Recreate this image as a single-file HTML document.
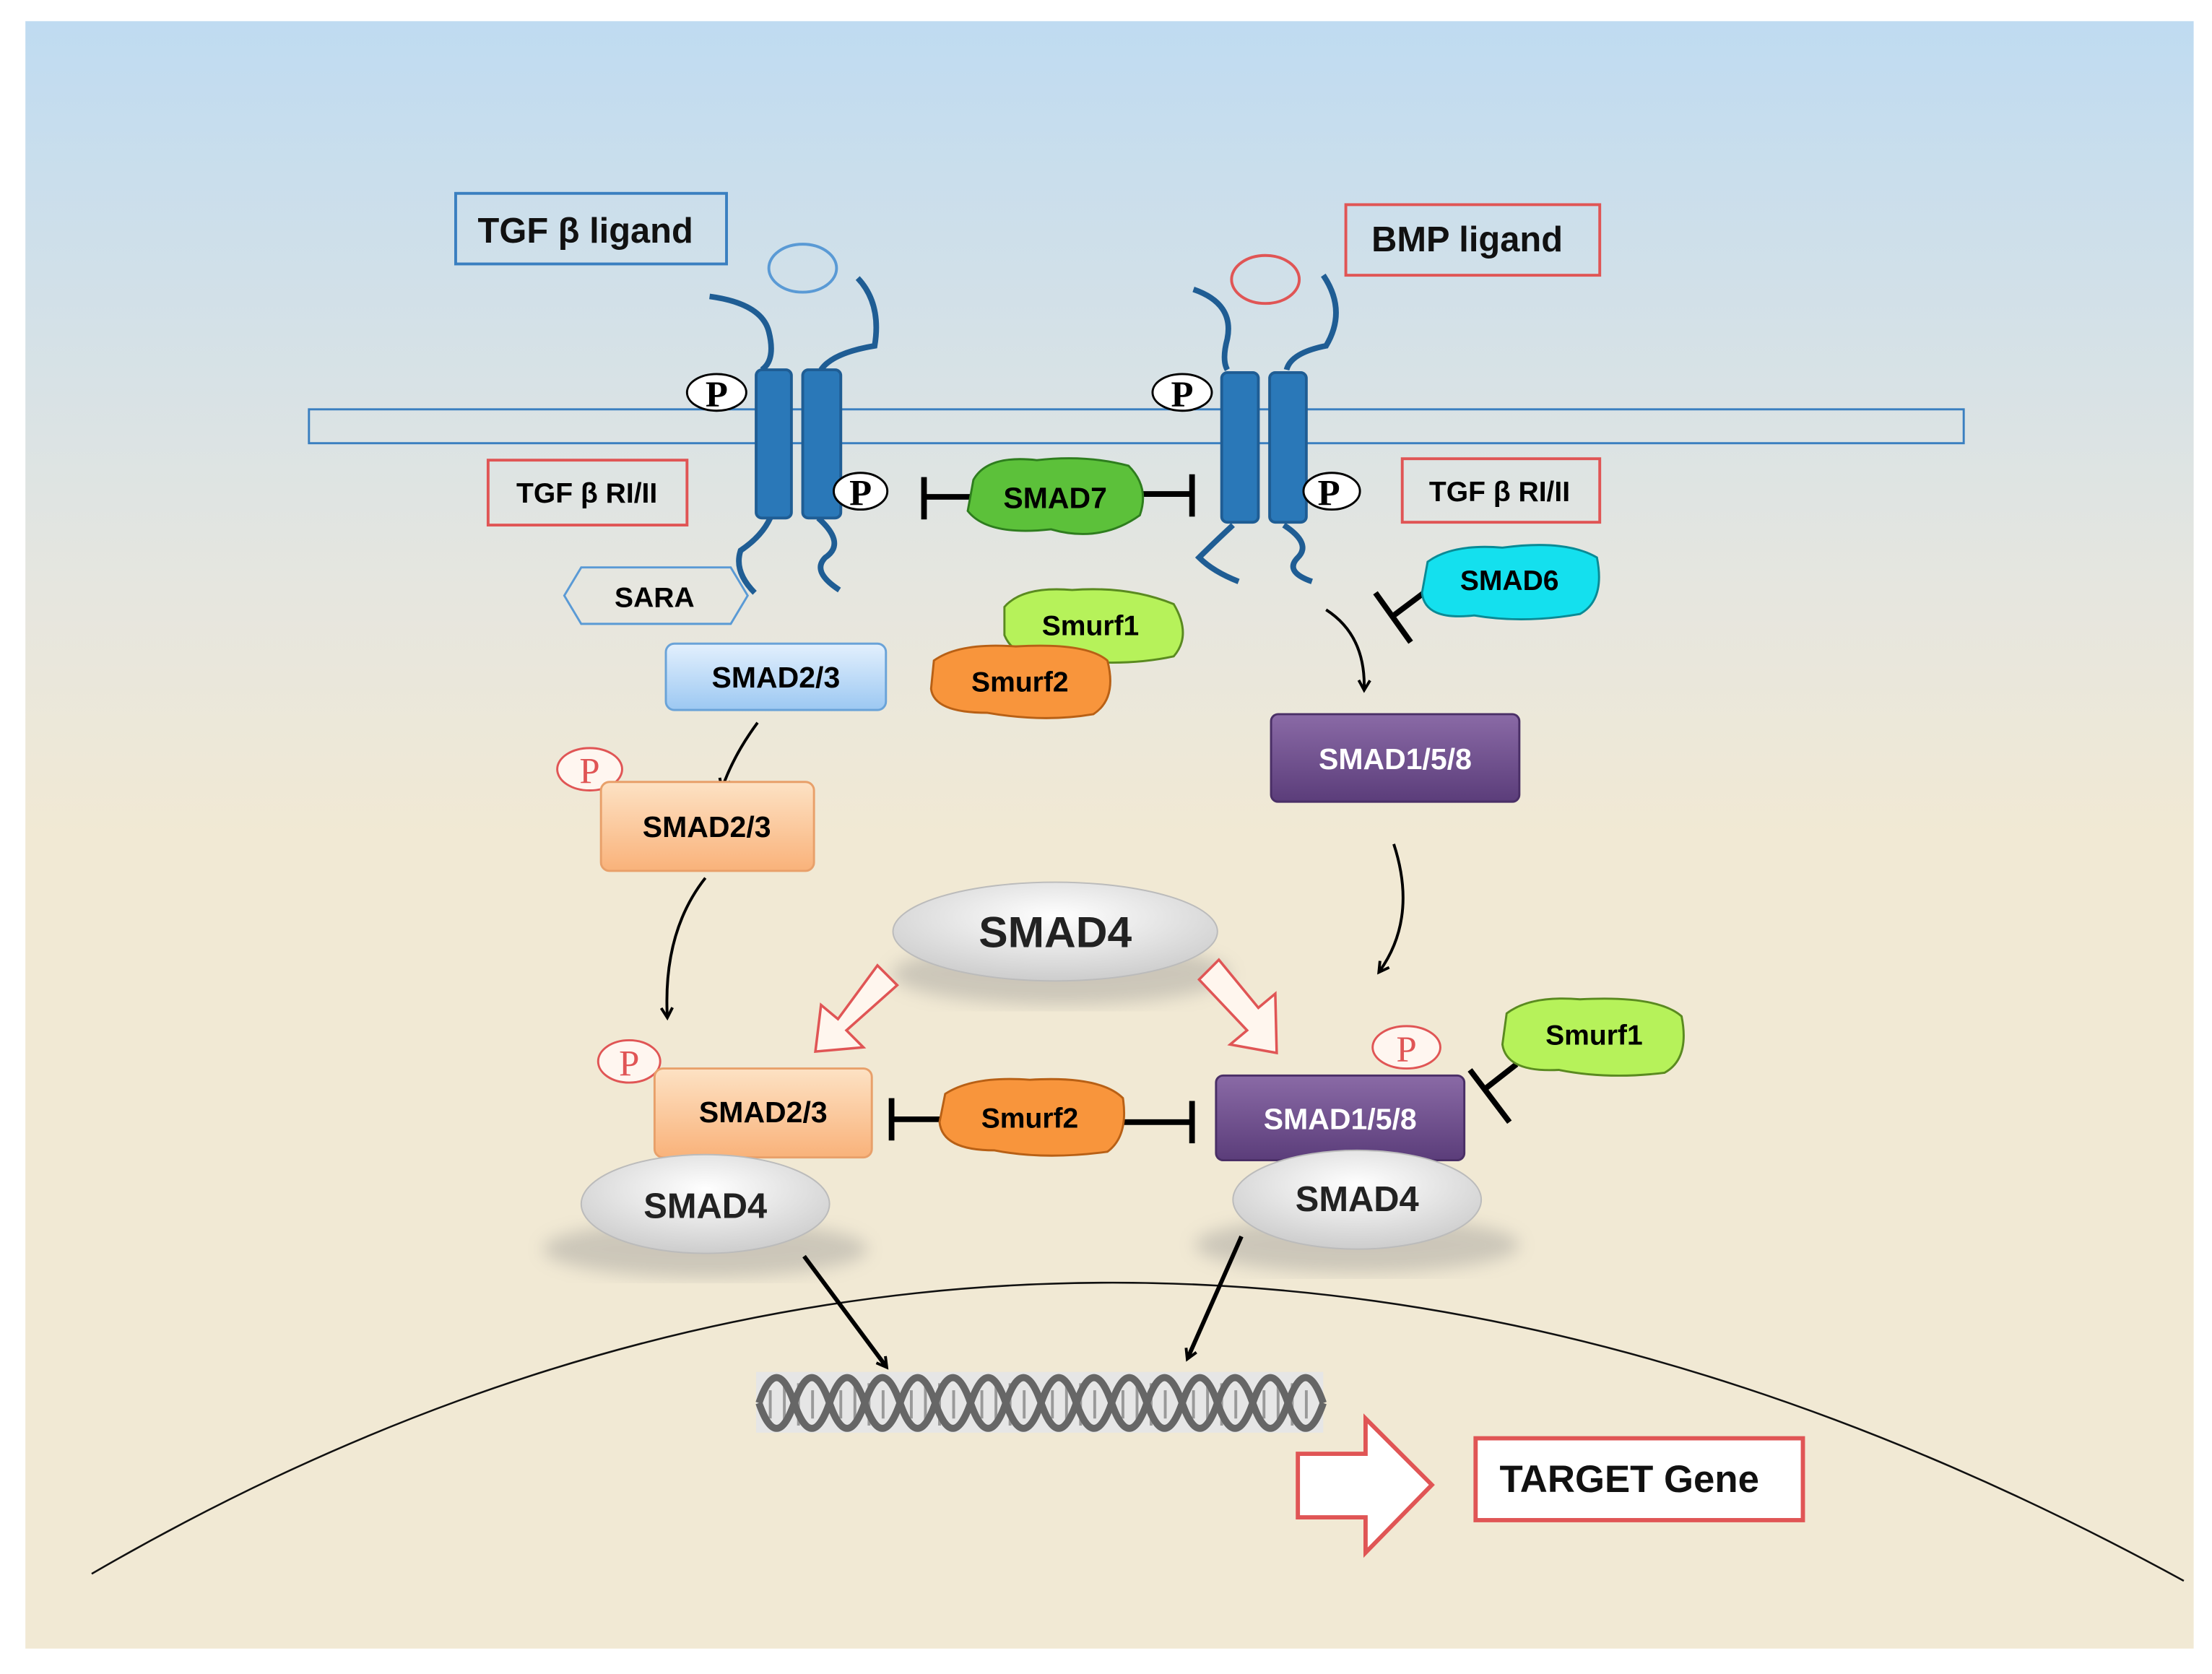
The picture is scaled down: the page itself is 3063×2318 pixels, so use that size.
<!DOCTYPE html>
<html><head><meta charset="utf-8"><style>
html,body{margin:0;padding:0;background:#fff;}
svg{display:block;}
text{font-family:"Liberation Sans",sans-serif;font-weight:bold;}
</style></head><body>
<svg width="3063" height="2318" viewBox="0 0 1568 1186" preserveAspectRatio="none" xmlns="http://www.w3.org/2000/svg">
<defs>
<linearGradient id="bg" x1="0" y1="0" x2="0" y2="1">
<stop offset="0" stop-color="#bfdbf1"/><stop offset="0.35" stop-color="#e6e6df"/><stop offset="0.5" stop-color="#f1e9d4"/><stop offset="1" stop-color="#f1e9d4"/></linearGradient>
<linearGradient id="blu" x1="0" y1="0" x2="0" y2="1"><stop offset="0" stop-color="#e3f0fd"/><stop offset="1" stop-color="#9cc8f2"/></linearGradient>
<linearGradient id="org" x1="0" y1="0" x2="0" y2="1"><stop offset="0" stop-color="#fde2c4"/><stop offset="1" stop-color="#f9b27a"/></linearGradient>
<linearGradient id="pur" x1="0" y1="0" x2="0" y2="1"><stop offset="0" stop-color="#8a6aa6"/><stop offset="1" stop-color="#5b3d7a"/></linearGradient>
<radialGradient id="gry" cx="0.5" cy="0.35" r="0.7"><stop offset="0" stop-color="#ffffff"/><stop offset="1" stop-color="#c9c9c9"/></radialGradient>
<marker id="ah" markerWidth="10" markerHeight="10" refX="7" refY="5" orient="auto" markerUnits="userSpaceOnUse"><path d="M1,1 L8,5 L1,9" fill="none" stroke="#000" stroke-width="2"/></marker>
<filter id="sh"><feGaussianBlur stdDeviation="6"/></filter>
</defs>
<rect x="18" y="15" width="1537" height="1153" fill="url(#bg)"/>
<path d="M65,1115 Q780,700 1548,1120" fill="none" stroke="#111" stroke-width="1.3"/>
<rect x="219" y="290" width="1173" height="24" fill="none" stroke="#3a7fc0" stroke-width="1.5"/>
<rect x="323" y="137" width="192" height="50" fill="none" stroke="#3a7fc0" stroke-width="2"/>
<text x="415" y="172" font-size="25" text-anchor="middle" fill="#111">TGF β ligand</text>
<rect x="954" y="145" width="180" height="50" fill="none" stroke="#e05555" stroke-width="2"/>
<text x="1040" y="178" font-size="25" text-anchor="middle" fill="#111">BMP ligand</text>
<ellipse cx="569" cy="190" rx="24" ry="17" fill="none" stroke="#5a9ad5" stroke-width="2"/>
<ellipse cx="897" cy="198" rx="24" ry="17" fill="none" stroke="#e05555" stroke-width="2"/>
<g stroke="#1f5d94" stroke-width="4" fill="none">
<path d="M503,210 Q540,215 545,235 Q550,255 540,262"/>
<path d="M608,197 Q625,215 620,245 Q590,250 582,262"/>
<path d="M546,367 Q540,380 525,390 Q520,405 535,420"/>
<path d="M580,367 Q600,385 585,395 Q575,405 595,418"/>
<path d="M846,205 Q875,215 870,240 Q866,255 870,262"/>
<path d="M938,195 Q955,220 940,245 Q915,250 912,262"/>
<path d="M874,372 Q860,385 850,395 Q860,405 878,412"/>
<path d="M910,372 Q930,385 920,395 Q910,405 930,412"/>
</g>
<g fill="#2a78b8" stroke="#1f5d94" stroke-width="2">
<rect x="536" y="262" width="25" height="105" rx="4"/><rect x="569" y="262" width="27" height="105" rx="4"/>
<rect x="866" y="264" width="26" height="106" rx="4"/><rect x="900" y="264" width="26" height="106" rx="4"/>
</g>
<g font-size="26" text-anchor="middle" fill="#000">
<ellipse cx="508" cy="278" rx="21" ry="13" fill="#fff" stroke="#000" stroke-width="1.5"/><text x="508" y="288" style="font-family:'Liberation Serif',serif">P</text>
<ellipse cx="610" cy="348" rx="19" ry="13" fill="#fff" stroke="#000" stroke-width="1.5"/><text x="610" y="358" style="font-family:'Liberation Serif',serif">P</text>
<ellipse cx="838" cy="278" rx="21" ry="13" fill="#fff" stroke="#000" stroke-width="1.5"/><text x="838" y="288" style="font-family:'Liberation Serif',serif">P</text>
<ellipse cx="944" cy="348" rx="20" ry="13" fill="#fff" stroke="#000" stroke-width="1.5"/><text x="942" y="358" style="font-family:'Liberation Serif',serif">P</text>
</g>
<rect x="346" y="326" width="141" height="46" fill="none" stroke="#e05555" stroke-width="2"/>
<text x="416" y="356" font-size="20" text-anchor="middle">TGF β RI/II</text>
<rect x="994" y="325" width="140" height="45" fill="none" stroke="#e05555" stroke-width="2"/>
<text x="1063" y="355" font-size="20" text-anchor="middle">TGF β RI/II</text>
<polygon points="412,402 518,402 530,422 518,442 412,442 400,422" fill="none" stroke="#5a9ad5" stroke-width="1.5"/>
<text x="464" y="430" font-size="20" text-anchor="middle">SARA</text>
<rect x="472" y="456" width="156" height="47" rx="6" fill="url(#blu)" stroke="#6aa3d8" stroke-width="1.5"/>
<text x="550" y="487" font-size="21" text-anchor="middle">SMAD2/3</text>
<g stroke="#000" stroke-width="4"><line x1="655" y1="352" x2="690" y2="352"/><line x1="655" y1="338" x2="655" y2="368"/>
<line x1="808" y1="350" x2="845" y2="350"/><line x1="845" y1="336" x2="845" y2="366"/></g>
<path d="M690,340 Q700,322 735,326 Q770,322 800,330 Q815,345 808,365 Q780,385 745,375 Q700,380 686,362 Z" fill="#5cc13a" stroke="#2e7d1e" stroke-width="1.5"/>
<text x="748" y="360" font-size="21" text-anchor="middle">SMAD7</text>
<path d="M712,430 Q725,415 760,418 Q800,415 832,428 Q845,450 832,465 Q800,472 760,468 Q720,470 712,450 Z" fill="#b6f25a" stroke="#5a8a20" stroke-width="1.5"/>
<text x="773" y="450" font-size="20" text-anchor="middle">Smurf1</text>
<path d="M662,468 Q680,455 720,458 Q770,455 785,468 Q792,495 775,506 Q740,512 700,505 Q662,505 660,488 Z" fill="#f8953c" stroke="#b86015" stroke-width="1.5"/>
<text x="723" y="490" font-size="20" text-anchor="middle">Smurf2</text>
<g stroke="#000" stroke-width="4"><line x1="1012" y1="418" x2="988" y2="436"/><line x1="975" y1="420" x2="1000" y2="455"/></g>
<path d="M1012,398 Q1030,385 1065,388 Q1110,382 1132,395 Q1138,425 1120,435 Q1080,442 1045,436 Q1010,440 1008,420 Z" fill="#14e0ee" stroke="#0a8a95" stroke-width="1.5"/>
<text x="1070" y="418" font-size="20" text-anchor="middle">SMAD6</text>
<path d="M940,432 Q968,450 967,488" fill="none" stroke="#000" stroke-width="2" marker-end="url(#ah)"/>
<rect x="901" y="506" width="176" height="62" rx="5" fill="url(#pur)" stroke="#4a2f66" stroke-width="1.5"/>
<text x="989" y="545" font-size="21" text-anchor="middle" fill="#fff">SMAD1/5/8</text>
<path d="M537,512 Q520,535 512,558" fill="none" stroke="#000" stroke-width="2" marker-end="url(#ah)"/>
<ellipse cx="418" cy="545" rx="23" ry="15" fill="#fff6f0" stroke="#e05555" stroke-width="1.5"/>
<text x="418" y="555" font-size="26" text-anchor="middle" fill="#e05555" style="font-family:'Liberation Serif',serif;font-weight:normal">P</text>
<rect x="426" y="554" width="151" height="63" rx="6" fill="url(#org)" stroke="#e8a06a" stroke-width="1.5"/>
<text x="501" y="593" font-size="21" text-anchor="middle">SMAD2/3</text>
<ellipse cx="752" cy="690" rx="120" ry="22" fill="#888" opacity="0.35" filter="url(#sh)"/>
<ellipse cx="748" cy="660" rx="115" ry="35" fill="url(#gry)" stroke="#bbb"/>
<text x="748" y="671" font-size="31" text-anchor="middle" fill="#222">SMAD4</text>
<path d="M500,622 Q470,660 473,720" fill="none" stroke="#000" stroke-width="2" marker-end="url(#ah)"/>
<path d="M988,598 Q1005,650 978,688" fill="none" stroke="#000" stroke-width="2" marker-end="url(#ah)"/>
<polygon points="622,684 636,698 600,730 612,742 578,745 582,712 594,722" fill="#fff6ee" stroke="#e05555" stroke-width="1.8"/>
<polygon points="850,694 864,680 892,714 904,704 905,746 872,740 884,730" fill="#fff6ee" stroke="#e05555" stroke-width="1.8"/>
<ellipse cx="500" cy="885" rx="115" ry="20" fill="#888" opacity="0.35" filter="url(#sh)"/>
<ellipse cx="446" cy="752" rx="22" ry="15" fill="#fff6f0" stroke="#e05555" stroke-width="1.5"/>
<text x="446" y="762" font-size="26" text-anchor="middle" fill="#e05555" style="font-family:'Liberation Serif',serif;font-weight:normal">P</text>
<rect x="464" y="757" width="154" height="63" rx="6" fill="url(#org)" stroke="#e8a06a" stroke-width="1.5"/>
<text x="541" y="795" font-size="21" text-anchor="middle">SMAD2/3</text>
<ellipse cx="500" cy="853" rx="88" ry="35" fill="url(#gry)" stroke="#bbb"/>
<text x="500" y="863" font-size="25" text-anchor="middle" fill="#222">SMAD4</text>
<g stroke="#000" stroke-width="4"><line x1="632" y1="793" x2="670" y2="793"/><line x1="632" y1="778" x2="632" y2="808"/>
<line x1="795" y1="795" x2="845" y2="795"/><line x1="845" y1="780" x2="845" y2="810"/></g>
<path d="M670,775 Q690,762 730,765 Q780,762 796,778 Q800,805 785,816 Q740,822 705,815 Q668,815 666,795 Z" fill="#f8953c" stroke="#b86015" stroke-width="1.5"/>
<text x="730" y="799" font-size="20" text-anchor="middle">Smurf2</text>
<ellipse cx="962" cy="882" rx="115" ry="20" fill="#888" opacity="0.35" filter="url(#sh)"/>
<ellipse cx="997" cy="742" rx="24" ry="15" fill="#fff6f0" stroke="#e05555" stroke-width="1.5"/>
<text x="997" y="752" font-size="26" text-anchor="middle" fill="#e05555" style="font-family:'Liberation Serif',serif;font-weight:normal">P</text>
<rect x="862" y="762" width="176" height="60" rx="5" fill="url(#pur)" stroke="#4a2f66" stroke-width="1.5"/>
<text x="950" y="800" font-size="21" text-anchor="middle" fill="#fff">SMAD1/5/8</text>
<ellipse cx="962" cy="850" rx="88" ry="35" fill="url(#gry)" stroke="#bbb"/>
<text x="962" y="858" font-size="25" text-anchor="middle" fill="#222">SMAD4</text>
<g stroke="#000" stroke-width="4"><line x1="1075" y1="754" x2="1052" y2="772"/><line x1="1042" y1="758" x2="1070" y2="795"/></g>
<path d="M1068,718 Q1085,705 1120,708 Q1175,705 1192,720 Q1198,750 1180,760 Q1140,765 1105,758 Q1068,760 1065,740 Z" fill="#b6f25a" stroke="#5a8a20" stroke-width="1.5"/>
<text x="1130" y="740" font-size="20" text-anchor="middle">Smurf1</text>
<line x1="570" y1="890" x2="628" y2="968" stroke="#000" stroke-width="3" marker-end="url(#ah)"/>
<line x1="880" y1="876" x2="842" y2="962" stroke="#000" stroke-width="3" marker-end="url(#ah)"/>
<rect x="536" y="972" width="402" height="43" fill="#e6e6e6"/>
<g stroke="#999" stroke-width="2">
<path d="M546,985v20M556,980v30M566,980v30M576,985v20M596,985v20M606,980v30M616,980v30M626,985v20M646,985v20M656,980v30M666,980v30M676,985v20M696,985v20M706,980v30M716,980v30M726,985v20M746,985v20M756,980v30M766,980v30M776,985v20M796,985v20M806,980v30M816,980v30M826,985v20M846,985v20M856,980v30M866,980v30M876,985v20M896,985v20M906,980v30M916,980v30M926,985v20"/>
</g>
<g fill="none" stroke="#666" stroke-width="5">
<path d="M538,994 q12.5,-36 25,0 t25,0 t25,0 t25,0 t25,0 t25,0 t25,0 t25,0 t25,0 t25,0 t25,0 t25,0 t25,0 t25,0 t25,0 t25,0"/>
<path d="M538,994 q12.5,36 25,0 t25,0 t25,0 t25,0 t25,0 t25,0 t25,0 t25,0 t25,0 t25,0 t25,0 t25,0 t25,0 t25,0 t25,0 t25,0"/>
</g>
<polygon points="920,1030 968,1030 968,1005 1015,1052 968,1100 968,1075 920,1075" fill="#fff" stroke="#e05555" stroke-width="3"/>
<rect x="1046" y="1019" width="232" height="58" fill="#fff" stroke="#e05555" stroke-width="3"/>
<text x="1155" y="1057" font-size="27" text-anchor="middle" fill="#111">TARGET Gene</text>
</svg>
</body></html>
